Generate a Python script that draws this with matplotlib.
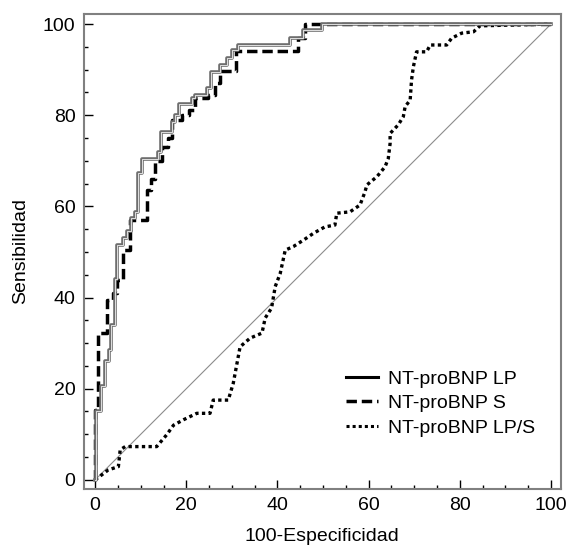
import matplotlib
matplotlib.use('Agg')
import matplotlib.pyplot as plt
from matplotlib.lines import Line2D
from matplotlib.ticker import MultipleLocator

plt.rcParams['font.family'] = ['Liberation Sans', 'DejaVu Sans']

# NT-proBNP LP (step ROC)
lp_x = [0, 0.3, 1.2, 2.2, 3.0, 3.5, 4.3, 4.8, 6.1, 6.9, 7.8, 8.8, 9.4, 10.2, 13.9, 14.4,
        16.8, 17.5, 18.3, 21.2, 22.0, 24.5, 25.4, 27.4, 28.9, 30.0, 31.4, 42.8, 45.7, 49.7, 100]
lp_y = [0, 15, 20.5, 26, 28.5, 34, 44, 51.5, 53, 54.5, 57.4, 58.8, 67.3, 70.5, 72, 76.4,
        78.6, 80, 82.4, 83.7, 84.5, 86, 89.5, 91, 92.5, 94.3, 95.3, 96.9, 98.7, 100, 100]

# NT-proBNP S (step ROC)
s_x = [0, 0, 0.7, 2.6, 4.0, 4.9, 6.2, 7.7, 11.3, 12.2, 13.2, 14.6, 16.0, 16.8, 19.0, 20.5,
       22.0, 24.7, 26.3, 27.4, 31.0, 44.6, 46.0, 100]
s_y = [0, 15.4, 32.2, 39.5, 41, 43.9, 50.4, 57, 63.6, 66, 70, 73, 75, 79, 80, 81.2,
       83.7, 84.4, 87, 89.6, 94, 96.9, 100, 100]

# NT-proBNP LP/S
d_x = [0, 2.9, 5.1, 5.5, 6.6, 13.5, 15.7, 17.2, 19.4, 22.3, 25.2, 25.9, 29.2, 30.3, 31.8,
       34.0, 36.6, 37.3, 38.7, 39.5, 40.6, 41.7, 43.5, 45.7, 47.9, 50.4, 52.6, 53.0, 55.9,
       58.1, 59.2, 59.6, 61.8, 63.6, 64.3, 64.7, 64.7, 66.5, 67.6, 68.0, 69.1, 69.4, 69.8,
       70.5, 72.7, 73.5, 77.1, 78.2, 80.4, 83.0, 84.4, 100]
d_y = [0, 2.2, 2.9, 6.6, 7.3, 7.3, 9.9, 12, 13.2, 14.6, 14.6, 17.5, 17.5, 21.2, 29.2,
       31.1, 32.2, 35.5, 37.7, 42.4, 45.3, 50.4, 51.2, 52.6, 54.1, 55.5, 55.9, 58.5, 58.8,
       60.3, 63.2, 64.7, 66.5, 68.7, 70.5, 73.8, 76, 77.9, 79.7, 81.9, 83.3, 87.7, 90.6,
       93.9, 93.9, 95.4, 95.4, 96.9, 98, 98.3, 99.6, 100]

labels = ['NT-proBNP LP', 'NT-proBNP S', 'NT-proBNP LP/S']

fig = plt.figure(figsize=(5.68, 5.49), dpi=100)
ax = fig.add_axes([0.1474, 0.1093, 0.8396, 0.8652])

ax.plot([0, 100], [0, 100], color='#8c8c8c', lw=0.8)
ax.plot(d_x, d_y, color='black', lw=2.4, linestyle=(0, (1, 1)))
ax.plot(s_x, s_y, color='black', lw=2.5, linestyle=(0, (3, 1.4)), drawstyle='steps-post')
ax.plot(lp_x, lp_y, color='#6e6e6e', lw=2.6, drawstyle='steps-post')
ax.plot(lp_x, lp_y, color='#e0e0e0', lw=0.7, drawstyle='steps-post')

ax.set_xlim(-2.5, 102.1)
ax.set_ylim(-2, 102.2)
ax.xaxis.set_major_locator(MultipleLocator(20))
ax.yaxis.set_major_locator(MultipleLocator(20))
ax.xaxis.set_minor_locator(MultipleLocator(5))
ax.yaxis.set_minor_locator(MultipleLocator(5))
ax.tick_params(which='major', direction='in', length=6.5, width=1, labelsize=14, pad=6)
ax.tick_params(which='minor', direction='in', length=3, width=1)
for sp in ax.spines.values():
    sp.set_color('#808080')
    sp.set_linewidth(1.5)

ax.set_xlabel('100-Especificidad', fontsize=14, labelpad=10)
ax.set_ylabel('Sensibilidad', fontsize=14, labelpad=10)

handles = [Line2D([], [], color='black', lw=2.2),
           Line2D([], [], color='black', lw=2.5, linestyle=(0, (3, 1.4))),
           Line2D([], [], color='black', lw=2.2, linestyle=(0, (1, 1)))]
ax.legend(handles, labels, loc='center left', bbox_to_anchor=(0.514, 0.18), frameon=False,
          fontsize=14, handlelength=1.65, handletextpad=0.5, labelspacing=0.35)

fig.savefig('out.png', dpi=100)
